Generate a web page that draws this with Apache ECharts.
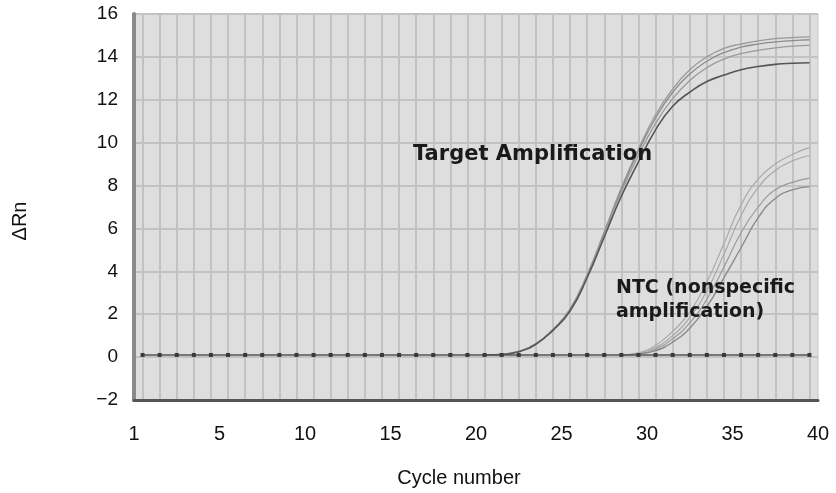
<!DOCTYPE html>
<html>
<head>
<meta charset="utf-8">
<script src="https://cdn.jsdelivr.net/npm/echarts@6/dist/echarts.min.js"></script>
<style>
  html, body { margin: 0; padding: 0; background: #fff; }
  #chart { width: 836px; height: 493px; }
</style>
</head>
<body>
<div id="chart"></div>
<script>
// cycles 1..40 of the flat baseline (no amplification)
const baselineValues = [0.1, 0.1, 0.1, 0.1, 0.1, 0.1, 0.1, 0.1, 0.1, 0.1,
  0.1, 0.1, 0.1, 0.1, 0.1, 0.1, 0.1, 0.1, 0.1, 0.1,
  0.1, 0.1, 0.1, 0.1, 0.1, 0.1, 0.1, 0.1, 0.1, 0.1,
  0.1, 0.1, 0.1, 0.1, 0.1, 0.1, 0.1, 0.1, 0.1, 0.1]

// target amplification curves, from cycle 21
const targetStart = 21
const target1 = [0.1, 0.13, 0.27, 0.62, 1.3, 2.25, 3.85, 5.85, 7.9, 9.7, 11.3, 12.5, 13.4, 14.0, 14.4, 14.6, 14.75, 14.85, 14.9, 14.93]
const target2 = [0.1, 0.13, 0.27, 0.62, 1.28, 2.22, 3.8, 5.8, 7.8, 9.6, 11.15, 12.35, 13.2, 13.8, 14.2, 14.45, 14.6, 14.7, 14.76, 14.8]
const target3 = [0.1, 0.12, 0.26, 0.6, 1.27, 2.2, 3.78, 5.75, 7.7, 9.4, 10.9, 12.05, 12.9, 13.5, 13.9, 14.15, 14.3, 14.42, 14.5, 14.54]
const target4 = [0.1, 0.12, 0.25, 0.6, 1.25, 2.15, 3.7, 5.6, 7.5, 9.1, 10.6, 11.7, 12.35, 12.85, 13.15, 13.4, 13.55, 13.65, 13.7, 13.73]

// NTC (nonspecific) curves, from cycle 29
const ntcStart = 29
const ntc1 = [0.1, 0.2, 0.55, 1.2, 2.1, 3.5, 5.3, 7.1, 8.3, 9.0, 9.45, 9.78]
const ntc2 = [0.1, 0.18, 0.45, 1.0, 1.85, 3.1, 4.8, 6.6, 7.9, 8.7, 9.15, 9.4]
const ntc3 = [0.1, 0.15, 0.38, 0.85, 1.6, 2.7, 4.2, 5.8, 7.0, 7.8, 8.15, 8.35]
const ntc4 = [0.1, 0.14, 0.3, 0.7, 1.35, 2.35, 3.7, 5.1, 6.5, 7.4, 7.8, 7.95]

// x tick labels and where they sit on the cycle axis
const xTickLabels = ['1', '5', '10', '15', '20', '25', '30', '35', '40']
const xTickPos = [0.5, 5.5, 10.5, 15.5, 20.5, 25.5, 30.5, 35.5, 40.5]
const gridCycles = [1, 2, 3, 4, 5, 6, 7, 8, 9, 10, 11, 12, 13, 14, 15, 16, 17, 18, 19, 20,
  21, 22, 23, 24, 25, 26, 27, 28, 29, 30, 31, 32, 33, 34, 35, 36, 37, 38, 39, 40]

function toPairs(start, values) {
  return values.map((v, i) => [start + i, v])
}

function curve(data, color, width) {
  return {
    type: 'line',
    data: data,
    smooth: true,
    showSymbol: false,
    silent: true,
    lineStyle: { color: color, width: width }
  }
}

const chart = echarts.init(document.getElementById('chart'))
const labelFont = { fontFamily: 'Liberation Sans, Arial, sans-serif', color: '#111' }
const noteStyle = { fontFamily: 'DejaVu Sans, sans-serif', fontWeight: 'bold', fill: '#1a1a1a' }

chart.setOption({
  animation: false,
  grid: { left: 134, right: 18, top: 14, bottom: 90, show: true, backgroundColor: '#dedede', borderColor: '#c4c4c4', borderWidth: 1 },
  xAxis: {
    type: 'value',
    min: 0.5,
    max: 40.5,
    axisLine: { show: true, onZero: false, lineStyle: { color: '#555', width: 3 } },
    axisTick: { show: false, customValues: gridCycles },
    splitLine: { show: true, lineStyle: { color: '#c2c2c2', width: 2 } },
    axisLabel: {
      customValues: xTickPos,
      margin: 24,
      fontSize: 20,
      ...labelFont,
      formatter: v => xTickLabels[xTickPos.indexOf(v)]
    },
    name: 'Cycle number',
    nameLocation: 'middle',
    nameGap: 68,
    nameTextStyle: { ...labelFont, fontSize: 20, padding: [0, 34, 0, 0] }
  },
  yAxis: {
    type: 'value',
    min: -2,
    max: 16,
    interval: 2,
    axisLine: { show: true, lineStyle: { color: '#8a8a8a', width: 4 } },
    axisTick: { show: false },
    splitLine: { show: true, lineStyle: { color: '#c2c2c2', width: 2 } },
    axisLabel: { margin: 16, fontSize: 19, ...labelFont, formatter: v => String(v).replace('-', '\u2212') }
  },
  series: [
    curve(toPairs(ntcStart, ntc1), '#a9a9a9', 1.2),
    curve(toPairs(ntcStart, ntc2), '#a9a9a9', 1.2),
    curve(toPairs(ntcStart, ntc3), '#9a9a9a', 1.2),
    curve(toPairs(ntcStart, ntc4), '#8a8a8a', 1.4),
    curve(toPairs(targetStart, target1), '#9a9a9a', 1.3),
    curve(toPairs(targetStart, target2), '#8c8c8c', 1.3),
    curve(toPairs(targetStart, target3), '#9a9a9a', 1.3),
    curve(toPairs(targetStart, target4), '#555', 1.6),
    {
      type: 'line',
      data: toPairs(1, baselineValues),
      symbol: 'rect',
      symbolSize: 4,
      silent: true,
      itemStyle: { color: '#3a3a3a' },
      lineStyle: { color: '#555', width: 1.5 }
    }
  ],
  graphic: [
    {
      type: 'text', x: 20, y: 221, rotation: Math.PI / 2, z: 100,
      style: { text: '\u0394Rn', fontFamily: 'Liberation Sans, Arial, sans-serif', fontSize: 20, fill: '#111', align: 'center', verticalAlign: 'middle' }
    },
    { type: 'text', left: 413, top: 144, z: 100, style: { text: 'Target Amplification', fontSize: 21, ...noteStyle } },
    { type: 'text', left: 616, top: 276, z: 100, style: { text: 'NTC (nonspecific\namplification)', fontSize: 19, lineHeight: 24, ...noteStyle } }
  ]
})
</script>
</body>
</html>
